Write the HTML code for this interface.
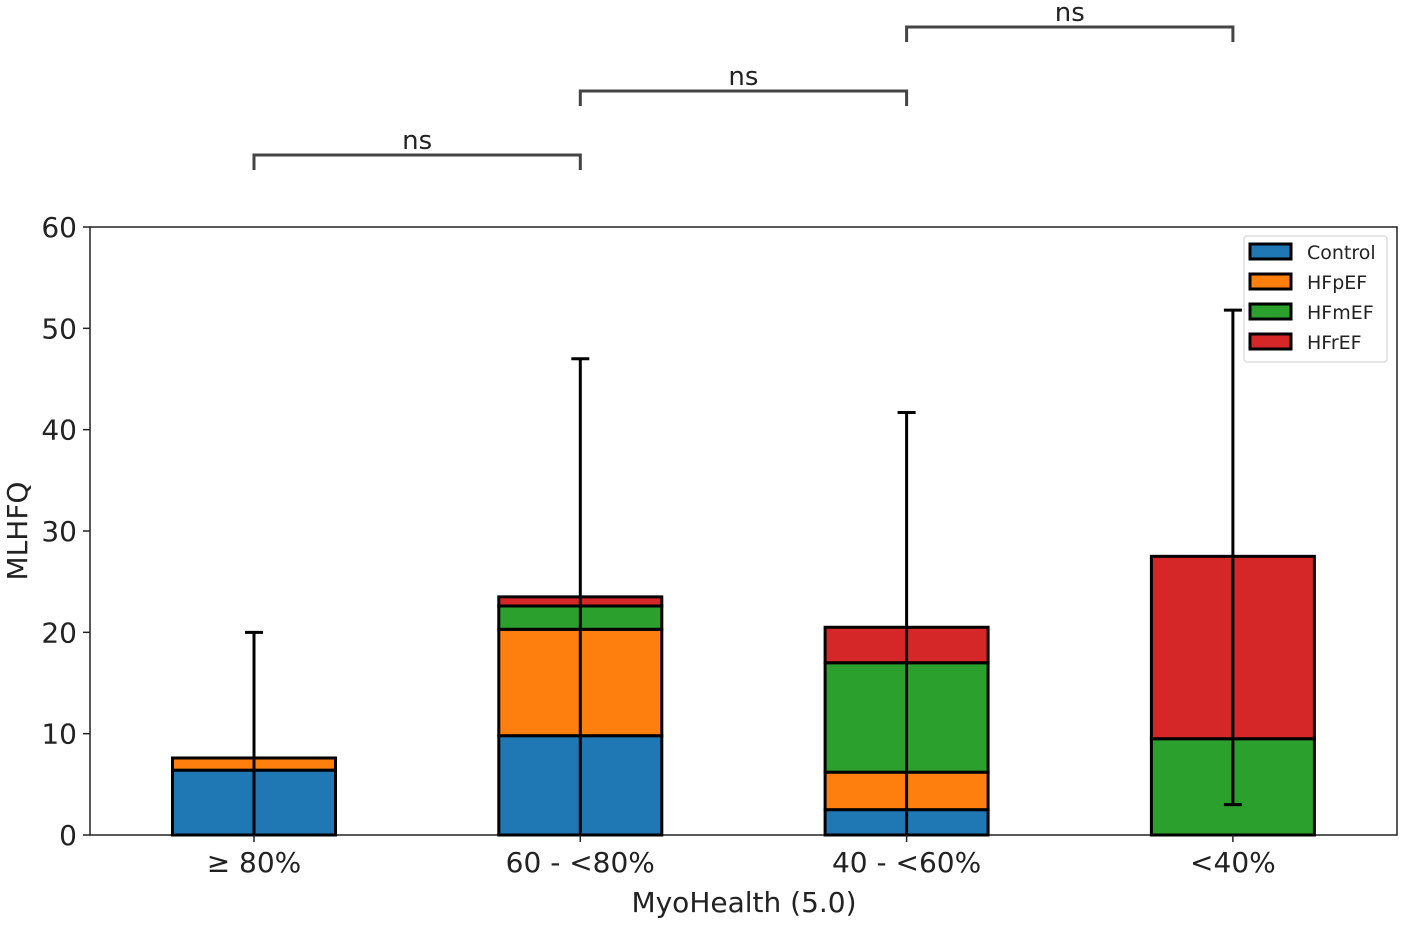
<!DOCTYPE html>
<html><head><meta charset="utf-8"><style>
body{margin:0;background:#fff;}
svg text{font-family:"DejaVu Sans","Liberation Sans",sans-serif;fill:#222;}
</style></head><body>
<svg id="chart" width="1401" height="920" xmlns="http://www.w3.org/2000/svg">
<rect x="90" y="227" width="1307" height="608" fill="#fff" stroke="#222" stroke-width="1.5"/>
<g id="bars"></g><g id="axes"></g><g id="brackets"></g>
<text x="744" y="912" font-size="28" text-anchor="middle">MyoHealth (5.0)</text>
<text transform="translate(27,531) rotate(-90)" font-size="28" text-anchor="middle">MLHFQ</text>
<g>
<rect x="1244" y="236" width="143" height="126" rx="3" fill="#fff" stroke="#ddd" stroke-width="1.5"/>
<g id="legend-items"></g>
</g>
</svg>
<script>
const categories=["≥ 80%","60 - <80%","40 - <60%","<40%"];
const seriesNames=["Control","HFpEF","HFmEF","HFrEF"];
const control=[6.4,9.8,2.5,0];
const hfpef=[1.2,10.5,3.7,0];
const hfmef=[0,2.3,10.8,9.5];
const hfref=[0,0.9,3.5,18];
const errLow=[0,0,0,3];
const errHigh=[20,47,41.7,51.8];
const yTicks=[0,10,20,30,40,50,60];
const bracketPairs=[[0,1],[1,2],[2,3]];
const bracketLabels=["ns","ns","ns"];
const colors=["#1f77b4","#ff7f0e","#2ca02c","#d62728"];
const NS="http://www.w3.org/2000/svg";
const y=v=>835-v*608/60;
const x=i=>254+i*326.3;
const bw=163;
function mk(t,a,p){const e=document.createElementNS(NS,t);for(const k in a)e.setAttribute(k,a[k]);p.appendChild(e);return e;}
const bars=document.getElementById('bars');
const series=[control,hfpef,hfmef,hfref];
categories.forEach((c,i)=>{
  let base=0;
  series.forEach((s,j)=>{
    if(s[i]<=0)return;
    const r=mk('rect',{x:x(i)-bw/2,y:y(base+s[i]),width:bw,height:y(base)-y(base+s[i]),fill:colors[j],stroke:'#000','stroke-width':3},bars);
    
    
    base+=s[i];
  });
  const l=mk('line',{x1:x(i),x2:x(i),y1:y(errLow[i]),y2:y(errHigh[i]),stroke:'#000','stroke-width':3},bars);
  
  
  mk('line',{x1:x(i)-9,x2:x(i)+9,y1:y(errHigh[i]),y2:y(errHigh[i]),stroke:'#000','stroke-width':3},bars);
  if(errLow[i]>0)mk('line',{x1:x(i)-9,x2:x(i)+9,y1:y(errLow[i]),y2:y(errLow[i]),stroke:'#000','stroke-width':3},bars);
  const t=mk('text',{x:x(i),y:872,'font-size':28,'text-anchor':'middle'},document.getElementById('axes'));
  t.textContent=c;
  
  
  mk('line',{x1:x(i),x2:x(i),y1:835,y2:842,stroke:'#222','stroke-width':1.5},document.getElementById('axes'));
});
const ax=document.getElementById('axes');
yTicks.forEach(v=>{
  mk('line',{x1:83,x2:90,y1:y(v),y2:y(v),stroke:'#222','stroke-width':1.5},ax);
  const t=mk('text',{x:77,y:y(v)+10,'font-size':28,'text-anchor':'end'},ax);
  t.textContent=v;
  
  
});
const br=document.getElementById('brackets');
bracketPairs.forEach((p,k)=>{
  const by=155-k*64;
  const pl=mk('polyline',{points:`${x(p[0])},${by+15} ${x(p[0])},${by} ${x(p[1])},${by} ${x(p[1])},${by+15}`,fill:'none',stroke:'#444','stroke-width':3},br);
  
  
  const t=mk('text',{x:(x(p[0])+x(p[1]))/2,y:by-6,'font-size':26,'text-anchor':'middle'},br);
  t.textContent=bracketLabels[k];
  
  
});
const lg=document.getElementById('legend-items');
seriesNames.forEach((n,j)=>{
  const yy=244+j*30;
  const r=mk('rect',{x:1250,y:yy,width:41,height:15,fill:colors[j],stroke:'#000','stroke-width':3},lg);
  
  
  const t=mk('text',{x:1307,y:yy+15,'font-size':19},lg);
  t.textContent=n;
  
  
});
</script>
</body></html>
